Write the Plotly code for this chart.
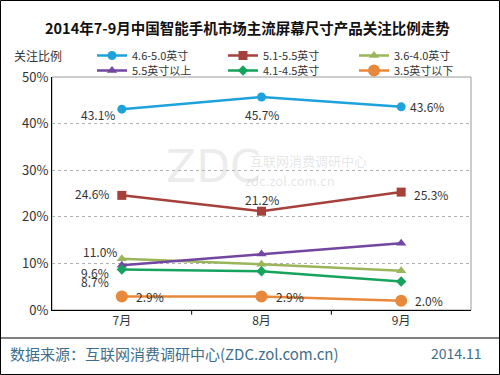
import plotly.graph_objects as go

months = ["7月", "8月", "9月"]
series_names = ["4.6-5.0英寸", "5.1-5.5英寸", "3.6-4.0英寸", "5.5英寸以上", "4.1-4.5英寸", "3.5英寸以下"]
v_46_50 = [43.1, 45.7, 43.6]
v_51_55 = [24.6, 21.2, 25.3]
v_36_40 = [11.0, 9.8, 8.4]
v_55_up = [9.6, 12.0, 14.3]
v_41_45 = [8.7, 8.3, 6.1]
v_35_dn = [2.9, 2.9, 2.0]
y_ticks = [0, 10, 20, 30, 40, 50]

values = [v_46_50, v_51_55, v_36_40, v_55_up, v_41_45, v_35_dn]
colors = ["#1da2dc", "#a5403b", "#9bb55a", "#7346a0", "#16a35e", "#e8883a"]
symbols = ["circle", "square", "triangle-up", "triangle-up", "diamond", "circle"]
msizes = [9, 9, 9, 9, 8, 12]
legend_ids = ["legend", "legend", "legend", "legend2", "legend2", "legend2"]

FONT = "Noto Sans CJK SC"
fig = go.Figure()
for name, vals, c, s, ms, lg in zip(series_names, values, colors, symbols, msizes, legend_ids):
    fig.add_trace(go.Scatter(
        x=months, y=vals, name=name, mode="lines+markers",
        line=dict(color=c, width=2.5),
        marker=dict(color=c, symbol=s, size=ms), legend=lg,
    ))

def lab(xi, val, xanchor, xshift, yshift, text=None):
    fig.add_annotation(x=months[xi], y=val, text=text or f"{val:.1f}%", showarrow=False,
                       xanchor=xanchor, yanchor="middle", xshift=xshift, yshift=yshift,
                       font=dict(family=FONT, size=12, color="#333333"))

# blue
lab(0, v_46_50[0], "right", -5, -5)
lab(1, v_46_50[1], "center", 0, -17)
lab(2, v_46_50[2], "left", 7, 0)
# red
lab(0, v_51_55[0], "right", -11, 2)
lab(1, v_51_55[1], "center", 0, 12)
lab(2, v_51_55[2], "left", 11, -2)
# 7月 cluster
lab(0, v_36_40[0], "right", -3, 7)
lab(0, v_55_up[0], "right", -11, -7)
lab(0, v_41_45[0], "right", -11, -12)
# orange
for i in range(3):
    lab(i, v_35_dn[i], "left", 12, 0)

def px2x(p):
    return (p - 52) / 419
def px2y(p):
    return (310 - p) / 233

def note(xp, yp, text, size, color, xanchor="center", family=FONT):
    fig.add_annotation(xref="paper", yref="paper", x=px2x(xp), y=px2y(yp), text=text, showarrow=False,
                       xanchor=xanchor, yanchor="middle", font=dict(family=family, size=size, color=color))

# watermark
note(213, 166, "ZDC", 44, "rgba(200,200,200,0.35)", family="DejaVu Sans")
note(308, 160, "互联网消费调研中心", 13, "rgba(200,200,200,0.45)")
note(290, 180, "zdc.zol.com.cn", 13, "rgba(200,200,200,0.45)")

# titles / footer
note(247, 28, "<b>2014年7-9月中国智能手机市场主流屏幕尺寸产品关注比例走势</b>", 14.5, "#111111")
note(12, 55, "关注比例", 12, "#333333", xanchor="left")
note(8, 353, "数据来源：互联网消费调研中心(ZDC.zol.com.cn)", 15, "#3f6f8c", xanchor="left")
note(484, 353, "2014.11", 14, "#3f6f8c", xanchor="right")

fig.add_shape(type="rect", xref="paper", yref="paper", x0=px2x(0.5), x1=px2x(499.5), y0=px2y(374.5), y1=px2y(0.5),
              line=dict(color="#000000", width=1))
fig.add_shape(type="line", xref="paper", yref="paper", x0=px2x(0.5), x1=px2x(499.5), y0=px2y(338), y1=px2y(338),
              line=dict(color="#000000", width=1))
fig.add_shape(type="rect", xref="paper", yref="paper", x0=0, x1=1, y0=0, y1=1,
              line=dict(color="#9a9a9a", width=1), layer="below")

legend_common = dict(orientation="h", xanchor="left", yanchor="top",
                     entrywidth=86, entrywidthmode="pixels", itemwidth=30,
                     font=dict(family=FONT, size=11, color="#333333"), bgcolor="rgba(0,0,0,0)")
fig.update_layout(
    width=500, height=375, margin=dict(l=52, r=29, t=77, b=65),
    paper_bgcolor="white", plot_bgcolor="white",
    font=dict(family=FONT, size=11, color="#333333"),
    showlegend=True,
    legend=dict(x=px2x(92), y=px2y(41), **legend_common),
    legend2=dict(x=px2x(92), y=px2y(56), **legend_common),
    xaxis=dict(showline=True, linecolor="#000000", linewidth=1, ticks="", showgrid=False,
               range=[-0.5, 2.5], tickfont=dict(size=12)),
    yaxis=dict(range=[0, 50], tickvals=y_ticks, ticktext=[f"{t}%" for t in y_ticks],
               showline=True, linecolor="#000000", linewidth=1, showgrid=True,
               gridcolor="#b0b0b0", griddash="dot", gridwidth=1, zeroline=False, tickfont=dict(size=13)),
)
for b in [0.5, 1.5]:
    fig.add_shape(type="line", xref="x", yref="paper", x0=b, x1=b, y0=0, y1=-0.02,
                  line=dict(color="#000000", width=1))

fig.write_html("out.html", config={"displayModeBar": False},
               post_script="document.body.style.margin='0px';")
